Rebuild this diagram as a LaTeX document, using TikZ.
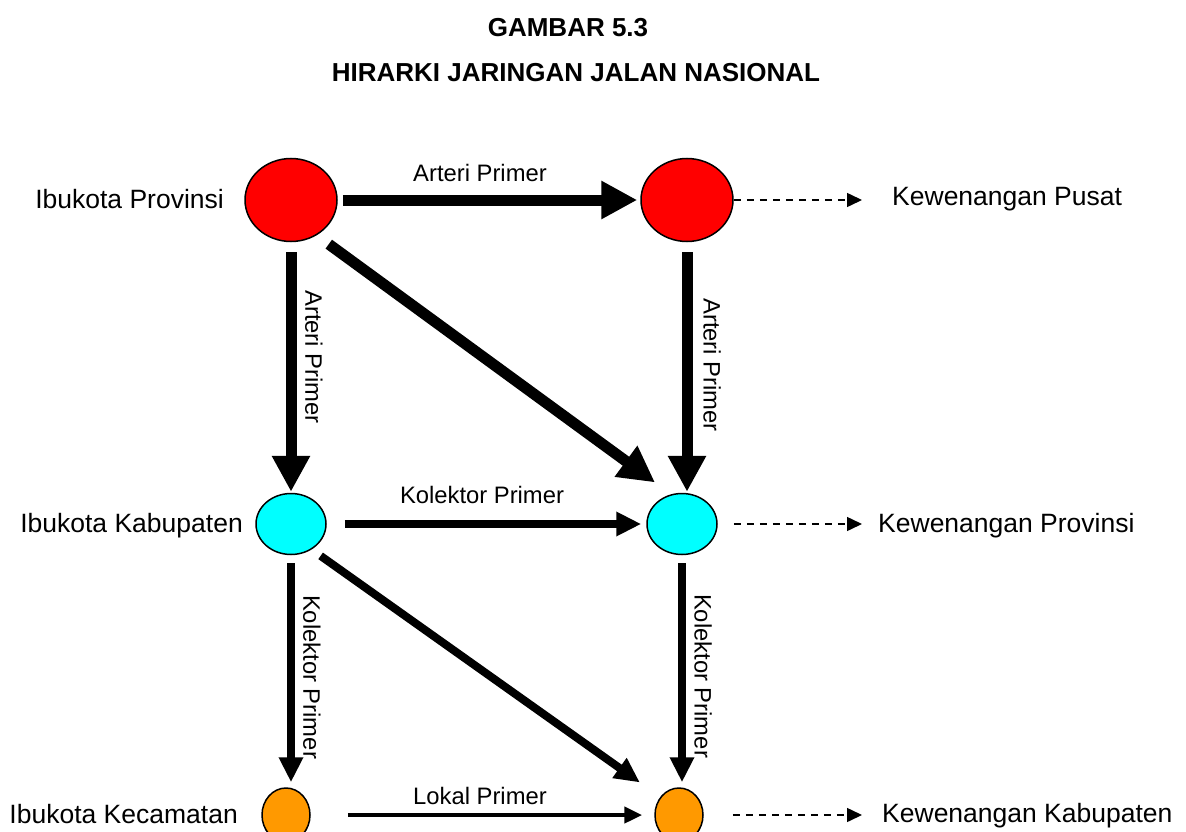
\documentclass[tikz,border=0pt]{standalone}
\usepackage{fontspec}
\setmainfont{Liberation Sans}
\usetikzlibrary{shapes.geometric,arrows.meta}

\definecolor{provred}{HTML}{FF0000}
\definecolor{kabcyan}{HTML}{00FFFF}
\definecolor{kecorange}{HTML}{FF9900}

\tikzset{
  kota/.style={ellipse, draw=black, line width=1.5pt, inner sep=0pt},
  prov/.style={kota, fill=provred, minimum width=92pt, minimum height=83pt},
  kab/.style={kota, fill=kabcyan, minimum width=70pt, minimum height=61pt},
  kec/.style={kota, fill=kecorange, minimum width=48pt, minimum height=54pt},
  judul/.style={inner sep=0pt, font=\bfseries\fontsize{26pt}{30pt}\selectfont},
  lbl/.style={inner sep=0pt, font=\fontsize{26.5pt}{30pt}\selectfont},
  jalan/.style={inner sep=0pt, font=\fontsize{23.8pt}{28pt}\selectfont},
  arteri/.style={line width=11pt, -{Triangle[length=36pt,width=36pt]}},
  kolektor/.style={line width=8pt, -{Triangle[length=25pt,width=23pt]}},
  lokal/.style={line width=4.5pt, -{Triangle[length=18pt,width=16pt]}},
  wewenang/.style={line width=1.5pt, dash pattern=on 7pt off 6pt, -{Triangle[length=15pt,width=14pt]}}
}

\begin{document}
\begin{tikzpicture}[x=1pt,y=-1pt]
\useasboundingbox (0,0) rectangle (1186,832);

% Judul
\node[judul] (judul1) at (568,28) {GAMBAR 5.3};
\node[judul] (judul2) at (576,73) {HIRARKI JARINGAN JALAN NASIONAL};

% Ibukota
\node[prov] (provA) at (291,200) {};
\node[prov] (provB) at (687,200) {};
\node[kab] (kabA) at (291,524) {};
\node[kab] (kabB) at (682,524) {};
\node[kec] (kecA) at (286,815) {};
\node[kec] (kecB) at (679,815) {};

% Nama kota dan kewenangan
\node[lbl, anchor=base east] (namaProv) at (224,208) {Ibukota Provinsi};
\node[lbl, anchor=base east] (namaKab) at (243,532) {Ibukota Kabupaten};
\node[lbl, anchor=base east] (namaKec) at (238,823) {Ibukota Kecamatan};
\node[lbl, anchor=base west] (kwPusat) at (892,205) {Kewenangan Pusat};
\node[lbl, anchor=base west] (kwProv) at (878,532) {Kewenangan Provinsi};
\node[lbl, anchor=base west] (kwKab) at (882,822) {Kewenangan Kabupaten};

% Nama jalan
\node[jalan, anchor=base] (jlnArteri) at (480,182) {Arteri Primer};
\node[jalan, anchor=base] (jlnKolektor) at (482,503) {Kolektor Primer};
\node[jalan, anchor=base] (jlnLokal) at (480,804) {Lokal Primer};
\node[jalan, rotate=-90] (jlnArteriA) at (314,357) {Arteri Primer};
\node[jalan, rotate=-90] (jlnArteriB) at (712,365) {Arteri Primer};
\node[jalan, rotate=-90] (jlnKolektorA) at (312,677) {Kolektor Primer};
\node[jalan, rotate=-90] (jlnKolektorB) at (703,676) {Kolektor Primer};

% Arteri
\draw[arteri, shorten <=5pt, shorten >=3pt] (provA.east) -- (provB.west);
\draw[arteri, shorten <=10pt, shorten >=1pt] (provA.south) -- (provA.south |- kabA.north);
\draw[arteri, shorten <=10pt, shorten >=1pt] (provB.south) -- (provB.south |- kabB.north);
\draw[arteri, shorten <=15pt, shorten >=20pt] (provA.-54.5) -- (kabB.110.8);

% Kolektor
\draw[kolektor, shorten <=18pt, shorten >=5pt] (kabA.east) -- (kabB.west);
\draw[kolektor, shorten <=8pt, shorten >=5pt] (kabA.south) -- (kabA.south |- kecA.north);
\draw[kolektor, shorten <=8pt, shorten >=5pt] (kabB.south) -- (kabB.south |- kecB.north);
\draw[kolektor, shorten <=11pt, shorten >=25pt] (kabA.-51.3) -- (kecB.136.6);

% Lokal
\draw[lokal, shorten <=37pt, shorten >=12pt] (kecA.east) -- (kecB.west);

% Kewenangan
\draw[wewenang, shorten >=30pt] (provB.east) -- (provB.east -| kwPusat.west);
\draw[wewenang, shorten <=16pt, shorten >=16pt] (kabB.east) -- (kabB.east -| kwProv.west);
\draw[wewenang, shorten <=29pt, shorten >=20pt] (kecB.east) -- (kecB.east -| kwKab.west);
\end{tikzpicture}
\end{document}
